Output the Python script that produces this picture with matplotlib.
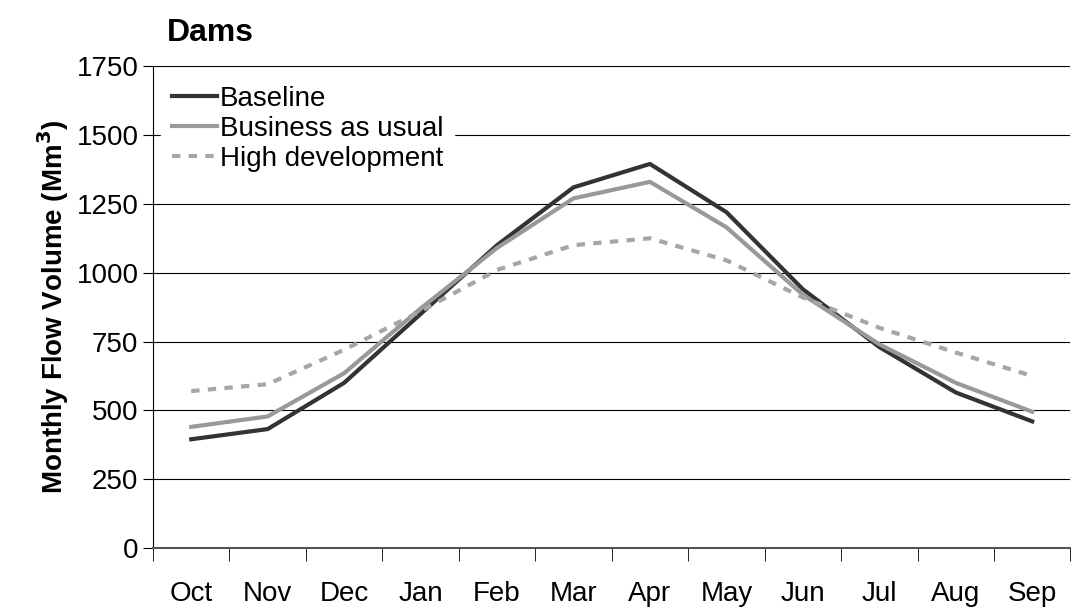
import matplotlib.pyplot as plt

months = ["Oct", "Nov", "Dec", "Jan", "Feb", "Mar", "Apr", "May", "Jun", "Jul", "Aug", "Sep"]
baseline = [395, 432, 600, 850, 1100, 1310, 1395, 1220, 940, 730, 565, 460]
business = [440, 478, 635, 870, 1090, 1270, 1330, 1165, 920, 740, 600, 495]
high_dev = [570, 595, 720, 860, 1010, 1100, 1125, 1045, 910, 800, 710, 625]

plt.rcParams['font.family'] = ['Liberation Sans', 'DejaVu Sans']

fig = plt.figure(figsize=(10.73, 6.13), dpi=100)
ax = fig.add_axes([0.1426, 0.106, 0.855, 0.786])

x = range(len(months))
ax.plot(x, baseline, color="#333333", lw=3, label="Baseline")
ax.plot(x, business, color="#999999", lw=3, label="Business as usual")
ax.plot(x, high_dev, color="#a6a6a6", lw=3, ls=(0, (2, 2)), label="High development")

ax.set_xlim(-0.5, 11.5)
ax.set_ylim(0, 1750)
ax.set_yticks(range(0, 1751, 250))
ax.set_xticks(x)
ax.set_xticklabels(months)
ax.set_xticks([i - 0.5 for i in range(13)], minor=True)
ax.tick_params(axis="x", which="major", length=0, labelsize=20, pad=24)
ax.tick_params(axis="x", which="minor", length=9, direction="out", color="black")
ax.tick_params(axis="y", labelsize=20, length=7, direction="out")
ax.yaxis.grid(True, color="black", lw=0.8)
ax.set_axisbelow(True)
for s in ["top", "right"]:
    ax.spines[s].set_visible(False)
ax.spines["bottom"].set_color("#555555")
ax.spines["bottom"].set_linewidth(1.5)
ax.set_ylabel("Monthly Flow Volume (Mm$^\\mathbf{3}$)", fontsize=20, fontweight="bold")
ax.set_title("Dams", fontsize=23, fontweight="bold", loc="left", x=0.015, pad=18)

leg = ax.legend(loc="upper left", fontsize=20, frameon=True, framealpha=1,
                edgecolor="white", fancybox=False, handlelength=1.6,
                handletextpad=0.1, labelspacing=0.15, borderaxespad=0.3)

fig.savefig("out.png", dpi=100)
